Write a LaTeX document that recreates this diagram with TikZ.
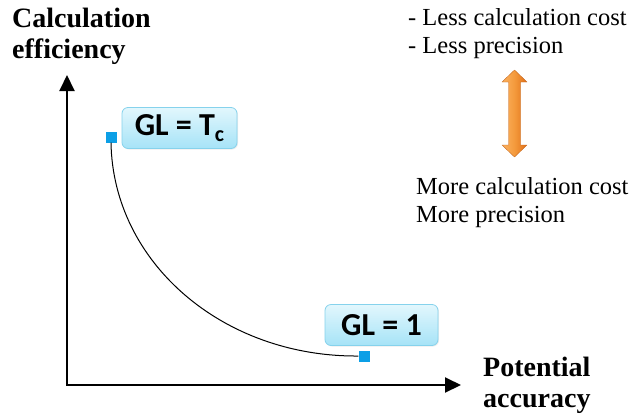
\documentclass[tikz,border=0pt]{standalone}
\usepackage{fontspec}
\setmainfont{Liberation Serif}
\newfontfamily\calib{Carlito}
\usetikzlibrary{arrows.meta,shadows}
\definecolor{boxtop}{HTML}{E2F7FD}
\definecolor{boxbot}{HTML}{A6E3F7}
\definecolor{boxline}{HTML}{86D2EC}
\definecolor{sqblue}{HTML}{0C9FE6}
\definecolor{orangeA}{HTML}{E0701A}
\definecolor{orangeB}{HTML}{FBB262}
\definecolor{orangeM}{HTML}{F49A3C}
\tikzset{
  axisline/.style={line width=2pt, -{Triangle[width=15pt,length=16pt]}},
  glbox/.style={draw=boxline, line width=0.8pt, rounded corners=6pt, top color=boxtop, bottom color=boxbot, inner sep=0pt, font=\calib\bfseries\fontsize{32}{34}\selectfont, drop shadow={shadow xshift=1pt, shadow yshift=-1pt, opacity=0.15}},
  marker/.style={fill=sqblue, minimum size=11pt, inner sep=0pt},
  bigbold/.style={font=\bfseries\fontsize{28}{31}\selectfont, align=left, inner sep=0pt},
  note/.style={font=\fontsize{24.5}{28}\selectfont, align=left, inner sep=0pt},
}
\begin{document}
\begin{tikzpicture}[x=1pt,y=-1pt]
\useasboundingbox (0,0) rectangle (642,413);
% axes
\coordinate (origin) at (67,385);
\coordinate (ytip) at (67,75);
\coordinate (xtip) at (461,385);
\draw[axisline, line cap=rect] (origin) -- (ytip);
\draw[axisline, line cap=rect] (origin) -- (xtip);
% axis labels
\node[bigbold, anchor=north west] (ylab) at (12,8) {Calculation\\efficiency};
\node[bigbold, anchor=north west] (xlab) at (483,357) {Potential\\accuracy};
% markers
\node[marker] (m1) at (111,137) {};
\node[marker] (m2) at (364,356) {};
% curve
\draw[line width=1pt] (m1.south) .. controls (113,262) and (222,357) .. (m2.west);
% GL boxes
\node[glbox, minimum width=115pt, minimum height=41pt] (b1) at (179.5,128) {GL = T\raisebox{-6pt}{\fontsize{22}{22}\selectfont c}};
\node[glbox, minimum width=113pt, minimum height=41pt] (b2) at (381.5,325) {GL = 1};
% right notes
\node[note, anchor=north west] (less) at (408,8) {- Less calculation cost\\- Less precision};
\node[note, anchor=north west] (more) at (416,177) {More calculation cost\\More precision};
% orange double arrow
\path[left color=orangeB, right color=orangeA, middle color=orangeM, draw=orangeA!85!black, line width=0.3pt, line join=round]
  (514.5,70) -- (527,82) -- (520.5,82) -- (520.5,145) -- (527,145) -- (514.5,157)
  -- (502,145) -- (508.5,145) -- (508.5,82) -- (502,82) -- cycle;
\end{tikzpicture}
\end{document}
